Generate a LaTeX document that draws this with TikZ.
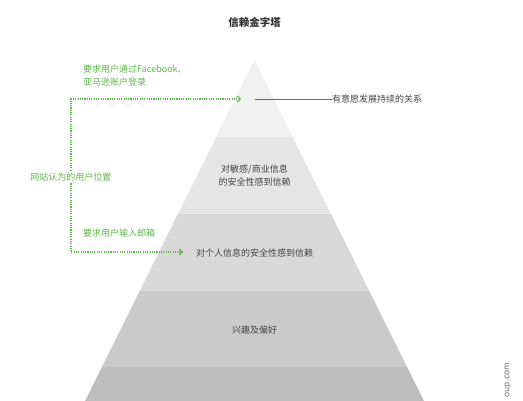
\documentclass[tikz,border=0pt]{standalone}
\usepackage{fontspec}
\setmainfont{Noto Sans CJK SC}
\usepackage{xcolor}
\usetikzlibrary{arrows.meta, positioning, calc}

\definecolor{tierA}{HTML}{F1F1F1}
\definecolor{tierB}{HTML}{E5E5E5}
\definecolor{tierC}{HTML}{D9D9D9}
\definecolor{tierD}{HTML}{CACACA}
\definecolor{tierE}{HTML}{BDBDBD}
\definecolor{hintgreen}{HTML}{5DB94A}
\definecolor{inktext}{HTML}{444444}

\begin{document}
\begin{tikzpicture}[
        x=1pt, y=-1pt,
        tierlabel/.style={align=center, font=\fontsize{9}{13}\selectfont, text=inktext, inner sep=1pt},
        greenlabel/.style={align=left, font=\fontsize{9}{13}\selectfont, text=hintgreen, inner sep=1pt},
        dotline/.style={draw=hintgreen, line width=1.1pt, dash pattern=on 1.1pt off 1.2pt, -{Straight Barb[length=2.8pt, width=6pt, line width=1.2pt]}}
    ]
        \useasboundingbox (0,0) rectangle (523,400);

        % --- Title ---
        \node[font=\fontsize{10.5}{12}\selectfont\bfseries, text=black!80] (title) at (254.5,22) {信赖金字塔};

        % --- Pyramid tiers ---
        \begin{scope}
            \clip (0,0) rectangle (523,400);
            \foreach \i/\col in {0/tierA, 1/tierB, 2/tierC, 3/tierD, 4/tierE} {
                \pgfmathsetmacro{\yt}{60+76.8*\i}
                \pgfmathsetmacro{\yb}{60+76.8*(\i+1)}
                \pgfmathsetmacro{\wt}{0.497*(\yt-60)}
                \pgfmathsetmacro{\wb}{0.497*(\yb-60)}
                \fill[\col] ({254.5-\wt},\yt) -- ({254.5+\wt},\yt) -- ({254.5+\wb},\yb) -- ({254.5-\wb},\yb) -- cycle;
            }
        \end{scope}

        % --- Tier texts ---
        \node[tierlabel] (sensitive) at (254.5,175.5) {对敏感/商业信息\\的安全性感到信赖};
        \node[tierlabel] (personal) at (254.5,253) {对个人信息的安全性感到信赖};
        \node[tierlabel] (interest) at (254.5,330) {兴趣及偏好};

        % --- Top tier callout ---
        \coordinate (apex) at (255,99);
        \node[tierlabel, anchor=west, inner sep=0pt] (relation) at (332,99) {有意愿发展持续的关系};
        \draw[inktext!80, line width=0.6pt] (apex) -- (relation.west);

        % --- Green hints ---
        \node[greenlabel, anchor=west] (login) at (82,75.5) {要求用户通过Facebook、\\亚马逊账户登录};
        \node[greenlabel, anchor=west] (email) at (82,233) {要求用户输入邮箱};
        \node[greenlabel, fill=white, inner sep=2pt] (position) at (71,177) {网站认为的用户位置};

        \coordinate (toptarget) at (241,99);
        \coordinate (bottarget) at (183,252);
        \draw[dotline] (position.north -| 71,0) |- (toptarget);
        \draw[dotline] (position.south -| 71,0) |- (bottarget);

        % --- Watermark ---
        \node[rotate=90, font=\fontsize{8.5}{10}\selectfont, text=black!55] (mark) at (508,380) {oup.com};

    \end{tikzpicture}
\end{document}
